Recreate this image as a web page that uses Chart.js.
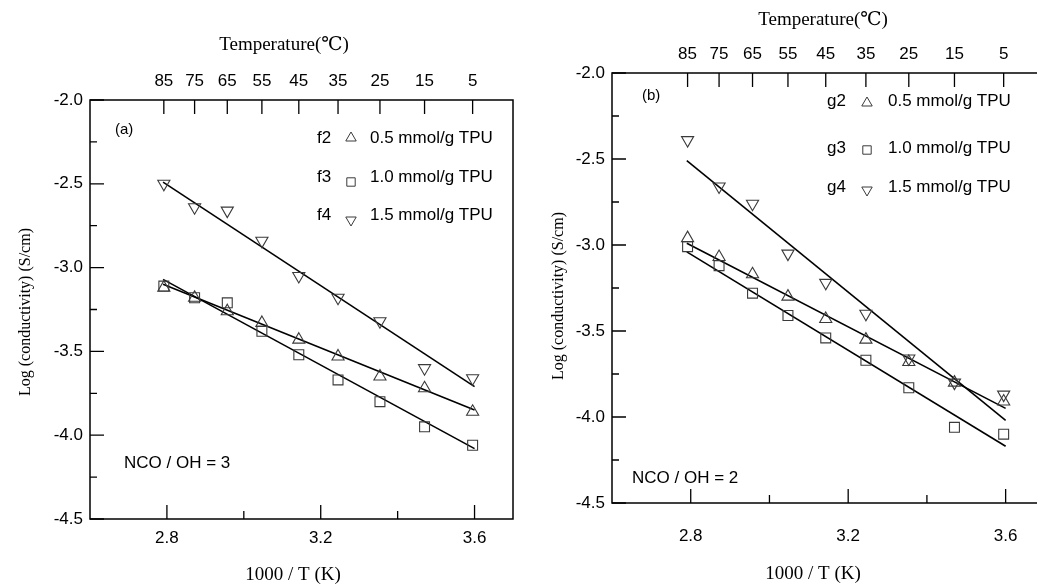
<!DOCTYPE html>
<html lang="en">
<head>
<meta charset="utf-8">
<title>Log conductivity vs 1000/T</title>
<style>
  html, body { margin: 0; padding: 0; background: #fff; overflow: hidden; width: 1037px; height: 586px; }
  .panel { position: absolute; top: 0; height: 586px; width: 530px; }
  #wrapA { left: 0; }
  #wrapB { left: 530px; }
</style>
</head>
<body>
<div class="panel" id="wrapA"><canvas id="chartA"></canvas></div>
<div class="panel" id="wrapB"><canvas id="chartB"></canvas></div>
<script src="https://cdn.jsdelivr.net/npm/chart.js"></script>
<script>
// measuring temperatures (top axis) and the matching 1000/T (K)
const tempLabels = ['85', '75', '65', '55', '45', '35', '25', '15', '5'];
const invT = [2.792, 2.872, 2.957, 3.047, 3.143, 3.245, 3.354, 3.470, 3.595];

const xTicks = [2.8, 3.0, 3.2, 3.4, 3.6];
const xMajor = [2.8, 3.2, 3.6];
const yTicks = [-4.5, -4.25, -4.0, -3.75, -3.5, -3.25, -3.0, -2.75, -2.5, -2.25, -2.0];

// panel (a), NCO/OH = 3
const f2 = [-3.12, -3.18, -3.26, -3.33, -3.43, -3.53, -3.65, -3.72, -3.86];
const f3 = [-3.11, -3.18, -3.21, -3.38, -3.52, -3.67, -3.80, -3.95, -4.06];
const f4 = [-2.50, -2.64, -2.66, -2.84, -3.05, -3.18, -3.32, -3.60, -3.66];
const fitX = [2.79, 3.60];
const f2Fit = [-3.10, -3.85];
const f3Fit = [-3.07, -4.08];
const f4Fit = [-2.49, -3.71];

// panel (b), NCO/OH = 2
const g2 = [-2.96, -3.07, -3.17, -3.30, -3.43, -3.55, -3.68, -3.80, -3.91];
const g3 = [-3.01, -3.12, -3.28, -3.41, -3.54, -3.67, -3.83, -4.06, -4.10];
const g4 = [-2.39, -2.66, -2.76, -3.05, -3.22, -3.40, -3.66, -3.80, -3.87];
const g2Fit = [-2.99, -3.95];
const g3Fit = [-3.04, -4.17];
const g4Fit = [-2.51, -4.02];

const SANS = '"Liberation Sans", Arial, sans-serif';
const SERIF = '"Liberation Serif", "DejaVu Serif", serif';
const MARK = '#3a3a3a';

function pts(ys) { return ys.map((y, i) => ({ x: invT[i], y })); }
function fitPts(ys) { return fitX.map((x, i) => ({ x, y: ys[i] })); }

function markers(label, ys, style, rot, r) {
  return {
    label, data: pts(ys), showLine: false,
    pointStyle: style, pointRotation: rot, pointRadius: r, pointHoverRadius: r,
    pointBorderColor: MARK, pointBackgroundColor: 'rgba(0,0,0,0)', pointBorderWidth: 1.1
  };
}
function fitLine(ys) {
  return { data: fitPts(ys), showLine: true, borderColor: '#000', borderWidth: 1.6, pointRadius: 0 };
}

function drawMark(ctx, kind, x, y, s) {
  ctx.beginPath();
  if (kind === 'up') {
    ctx.moveTo(x, y - s); ctx.lineTo(x + s * 0.87, y + s * 0.5); ctx.lineTo(x - s * 0.87, y + s * 0.5);
  } else if (kind === 'down') {
    ctx.moveTo(x, y + s); ctx.lineTo(x + s * 0.87, y - s * 0.5); ctx.lineTo(x - s * 0.87, y - s * 0.5);
  } else {
    ctx.rect(x - s * 0.7, y - s * 0.7, s * 1.4, s * 1.4);
  }
  ctx.closePath();
  ctx.stroke();
}

// frame, inward ticks, titles and the in-plot legend
const framePlugin = {
  id: 'frame',
  afterDraw(chart, args, o) {
    const { ctx, chartArea: a, scales } = chart;
    ctx.save();
    ctx.strokeStyle = '#000';
    ctx.lineWidth = 1.5;
    ctx.strokeRect(a.left, a.top, a.right - a.left, a.bottom - a.top);
    ctx.lineWidth = 1.3;
    ctx.beginPath();
    for (const t of scales.y.ticks) {
      const py = scales.y.getPixelForValue(t.value);
      ctx.moveTo(a.left, py); ctx.lineTo(a.left + (t.label ? 14 : 7), py);
    }
    for (const t of scales.x.ticks) {
      const px = scales.x.getPixelForValue(t.value);
      ctx.moveTo(px, a.bottom); ctx.lineTo(px, a.bottom - (t.label ? 14 : 8));
    }
    for (const t of scales.xTop.ticks) {
      const px = scales.xTop.getPixelForValue(t.value);
      ctx.moveTo(px, a.top); ctx.lineTo(px, a.top + 14);
    }
    ctx.stroke();

    ctx.fillStyle = '#000';
    ctx.textBaseline = 'middle';
    // axis titles
    ctx.font = '19px ' + SERIF;
    ctx.textAlign = 'center';
    ctx.fillText('Temperature(\u2103)', o.topTitle[0], o.topTitle[1]);
    ctx.fillText('1000 / T (K)', o.bottomTitle[0], o.bottomTitle[1]);
    ctx.save();
    ctx.translate(o.yTitle[0], o.yTitle[1]);
    ctx.rotate(-Math.PI / 2);
    ctx.font = '16px ' + SERIF;
    ctx.fillText('Log (conductivity) (S/cm)', 0, 0);
    ctx.restore();

    // panel tag and note
    ctx.textAlign = 'left';
    ctx.font = '15px ' + SANS;
    ctx.fillText(o.tag, o.tagPos[0], o.tagPos[1]);
    ctx.font = '17px ' + SANS;
    ctx.fillText(o.note, o.notePos[0], o.notePos[1]);

    // legend
    ctx.lineWidth = 1;
    ctx.strokeStyle = MARK;
    o.legend.forEach((e, i) => {
      const y = o.legendY[i];
      ctx.fillText(e.name, o.legendX[0], y);
      drawMark(ctx, e.mark, o.legendX[1], y + e.dy, 6);
      ctx.fillText(e.text, o.legendX[2], y);
    });
    ctx.restore();
  }
};

function makeChart(id, sets, geo, frame) {
  return new Chart(document.getElementById(id), {
    type: 'scatter',
    data: { datasets: sets },
    plugins: [framePlugin],
    options: {
      responsive: true,
      maintainAspectRatio: false,
      animation: false,
      layout: { padding: { left: 0, top: 0, bottom: 0, right: geo.padRight } },
      plugins: { legend: { display: false }, tooltip: { enabled: false }, frame },
      scales: {
        x: {
          type: 'linear', position: 'bottom', min: 2.6, max: 3.7,
          afterBuildTicks: s => { s.ticks = xTicks.map(v => ({ value: v })); },
          afterFit: s => { s.height = geo.bottom; },
          grid: { display: false, drawTicks: false },
          border: { display: false },
          ticks: {
            color: '#000', padding: geo.xPad, maxRotation: 0, autoSkip: false,
            font: { family: SANS, size: 17 },
            callback: v => xMajor.some(m => Math.abs(m - v) < 1e-6) ? v.toFixed(1) : ''
          }
        },
        xTop: {
          type: 'linear', position: 'top', min: 2.6, max: 3.7,
          afterBuildTicks: s => { s.ticks = invT.map(v => ({ value: v })); },
          afterFit: s => { s.height = geo.top; },
          grid: { display: false, drawTicks: false },
          border: { display: false },
          ticks: {
            color: '#000', padding: 8, maxRotation: 0, autoSkip: false,
            font: { family: SANS, size: 17 },
            callback: (v, i) => tempLabels[i]
          }
        },
        y: {
          type: 'linear', min: -4.5, max: -2.0,
          afterBuildTicks: s => { s.ticks = yTicks.map(v => ({ value: v })); },
          afterFit: s => { s.width = geo.left; },
          grid: { display: false, drawTicks: false },
          border: { display: false },
          ticks: {
            color: '#000', padding: 7, autoSkip: false,
            font: { family: SANS, size: 17 },
            callback: v => Math.round(v * 4) % 2 === 0 ? v.toFixed(1) : ''
          }
        }
      }
    }
  });
}

makeChart('chartA', [
  markers('f2', f2, 'triangle', 0, 7),
  markers('f3', f3, 'rect', 0, 7),
  markers('f4', f4, 'triangle', 180, 7),
  fitLine(f2Fit), fitLine(f3Fit), fitLine(f4Fit)
], { left: 90, top: 100, bottom: 67, padRight: 17, xPad: 9 }, {
  topTitle: [284, 45], bottomTitle: [293, 575], yTitle: [26, 312],
  tag: '(a)', tagPos: [115, 130], note: 'NCO / OH = 3', notePos: [124, 463],
  legendX: [317, 351, 370], legendY: [138, 177, 215],
  legend: [
    { name: 'f2', mark: 'up', dy: 0, text: '0.5 mmol/g TPU' },
    { name: 'f3', mark: 'square', dy: 5, text: '1.0 mmol/g TPU' },
    { name: 'f4', mark: 'down', dy: 5, text: '1.5 mmol/g TPU' }
  ]
});

makeChart('chartB', [
  markers('g2', g2, 'triangle', 0, 7),
  markers('g3', g3, 'rect', 0, 7),
  markers('g4', g4, 'triangle', 180, 7),
  fitLine(g2Fit), fitLine(g3Fit), fitLine(g4Fit)
], { left: 82, top: 73, bottom: 83, padRight: 15, xPad: 23 }, {
  topTitle: [293, 20], bottomTitle: [283, 574], yTitle: [29, 296],
  tag: '(b)', tagPos: [112, 96], note: 'NCO / OH = 2', notePos: [102, 478],
  legendX: [297, 337, 358], legendY: [101, 148, 187],
  legend: [
    { name: 'g2', mark: 'up', dy: 2, text: '0.5 mmol/g TPU' },
    { name: 'g3', mark: 'square', dy: 2, text: '1.0 mmol/g TPU' },
    { name: 'g4', mark: 'down', dy: 3, text: '1.5 mmol/g TPU' }
  ]
});
</script>
</body>
</html>
